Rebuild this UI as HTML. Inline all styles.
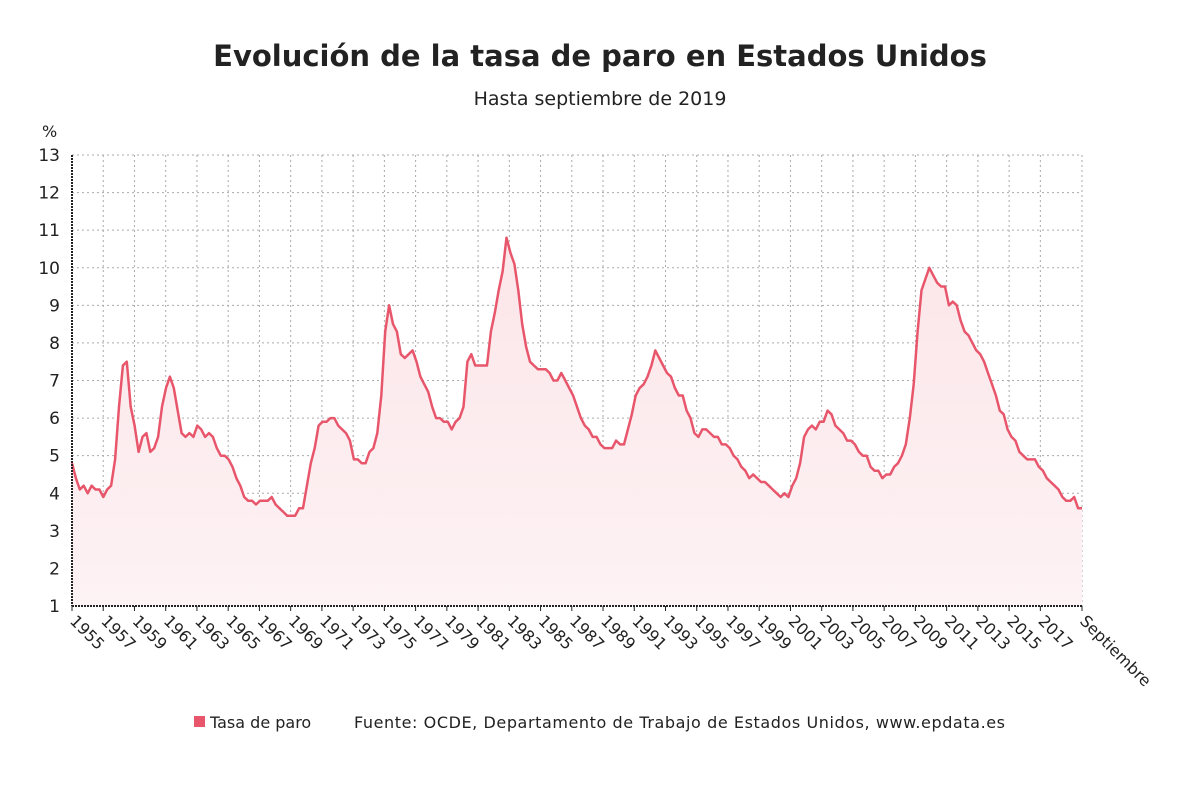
<!DOCTYPE html>
<html><head><meta charset="utf-8">
<style>
body{margin:0;background:#fff;font-family:"DejaVu Sans","Liberation Sans",sans-serif;}
svg text{font-family:"DejaVu Sans","Liberation Sans",sans-serif;fill:#222;}
</style></head>
<body>
<svg id="chart" width="1200" height="808" xmlns="http://www.w3.org/2000/svg">
<defs><linearGradient id="fillg" x1="0" y1="0" x2="0" y2="1"><stop offset="0" stop-color="#fce6e9"/><stop offset="1" stop-color="#fdf2f4"/></linearGradient></defs>
<text x="600" y="66" text-anchor="middle" font-size="29" font-weight="bold">Evolución de la tasa de paro en Estados Unidos</text>
<text x="600" y="105" text-anchor="middle" font-size="19">Hasta septiembre de 2019</text>
<text x="42" y="137" font-size="16">%</text>
<g id="grid"></g><g id="series"></g><g id="axes"></g>
<rect x="194" y="716" width="11" height="11" fill="#e8566c"/>
<text x="210" y="728" font-size="16">Tasa de paro</text>
<text x="354" y="728" font-size="16" textLength="651">Fuente: OCDE, Departamento de Trabajo de Estados Unidos, www.epdata.es</text>
</svg>
<script>
const startYear = 1955;
const yTicks = [1,2,3,4,5,6,7,8,9,10,11,12,13];
const xTickLabels = ["1955","1957","1959","1961","1963","1965","1967","1969","1971","1973","1975","1977","1979","1981","1983","1985","1987","1989","1991","1993","1995","1997","1999","2001","2003","2005","2007","2009","2011","2013","2015","2017","Septiembre"];
const rate = [
4.8,4.4,4.1,4.2, 4.0,4.2,4.1,4.1, 3.9,4.1,4.2,4.9, 6.3,7.4,7.5,6.3, 5.8,5.1,5.5,5.6,
5.1,5.2,5.5,6.3, 6.8,7.1,6.8,6.2, 5.6,5.5,5.6,5.5, 5.8,5.7,5.5,5.6, 5.5,5.2,5.0,5.0,
4.9,4.7,4.4,4.2, 3.9,3.8,3.8,3.7, 3.8,3.8,3.8,3.9, 3.7,3.6,3.5,3.4, 3.4,3.4,3.6,3.6,
4.2,4.8,5.2,5.8, 5.9,5.9,6.0,6.0, 5.8,5.7,5.6,5.4, 4.9,4.9,4.8,4.8, 5.1,5.2,5.6,6.6,
8.3,9.0,8.5,8.3, 7.7,7.6,7.7,7.8, 7.5,7.1,6.9,6.7, 6.3,6.0,6.0,5.9, 5.9,5.7,5.9,6.0,
6.3,7.5,7.7,7.4, 7.4,7.4,7.4,8.3, 8.8,9.4,9.9,10.8, 10.4,10.1,9.4,8.5, 7.9,7.5,7.4,7.3,
7.3,7.3,7.2,7.0, 7.0,7.2,7.0,6.8, 6.6,6.3,6.0,5.8, 5.7,5.5,5.5,5.3, 5.2,5.2,5.2,5.4,
5.3,5.3,5.7,6.1, 6.6,6.8,6.9,7.1, 7.4,7.8,7.6,7.4, 7.2,7.1,6.8,6.6, 6.6,6.2,6.0,5.6,
5.5,5.7,5.7,5.6, 5.5,5.5,5.3,5.3, 5.2,5.0,4.9,4.7, 4.6,4.4,4.5,4.4, 4.3,4.3,4.2,4.1,
4.0,3.9,4.0,3.9, 4.2,4.4,4.8,5.5, 5.7,5.8,5.7,5.9, 5.9,6.2,6.1,5.8, 5.7,5.6,5.4,5.4,
5.3,5.1,5.0,5.0, 4.7,4.6,4.6,4.4, 4.5,4.5,4.7,4.8, 5.0,5.3,6.0,6.9, 8.3,9.4,9.7,10.0,
9.8,9.6,9.5,9.5, 9.0,9.1,9.0,8.6, 8.3,8.2,8.0,7.8, 7.7,7.5,7.2,6.9, 6.6,6.2,6.1,5.7,
5.5,5.4,5.1,5.0, 4.9,4.9,4.9,4.7, 4.6,4.4,4.3,4.2, 4.1,3.9,3.8,3.8, 3.9,3.6,3.6
];
const NS="http://www.w3.org/2000/svg";
const X0=72,X1=1082,Y0=606,Y1=155;
const tEnd=2019+8/12;
const xs=t=>X0+(t-startYear)/(tEnd-startYear)*(X1-X0);
const ys=v=>Y0-(v-1)/(13-1)*(Y0-Y1);
function mk(tag,attrs,parent){const e=document.createElementNS(NS,tag);for(const k in attrs)e.setAttribute(k,attrs[k]);parent.appendChild(e);return e;}
const grid=document.getElementById('grid'),axes=document.getElementById('axes'),series=document.getElementById('series');
yTicks.forEach(v=>{
  if(v>1){const l=mk('line',{x1:X0,x2:X1,y1:ys(v),y2:ys(v),stroke:'#aaa','stroke-dasharray':'2,3'},grid);
  
  }
  const t=mk('text',{x:60,y:ys(v)+6,'text-anchor':'end','font-size':17},axes);t.textContent=v;
  
  
});
xTickLabels.forEach((lab,i)=>{
  const yr=lab==="Septiembre"?tEnd:startYear+2*i;const x=xs(yr);
  if(i>0){const l=mk('line',{x1:x,x2:x,y1:Y1,y2:Y0,stroke:'#aaa','stroke-dasharray':'2,3'},grid);
  
  }
  mk('line',{x1:x,x2:x,y1:Y0,y2:Y0+5,stroke:'#222'},axes);
  const t=mk('text',{x:x-3,y:Y0+16,'font-size':16,transform:`rotate(45 ${x-3} ${Y0+16})`},axes);t.textContent=lab;
  
  
});
const la=mk('line',{x1:X0,x2:X0,y1:Y1,y2:Y0,stroke:'#222','stroke-width':2,'stroke-dasharray':'2,1'},axes);


const ba=mk('line',{x1:X0,x2:X1,y1:Y0,y2:Y0,stroke:'#222','stroke-width':2,'stroke-dasharray':'2,1'},axes);


const n=rate.length;
const pts=rate.map((v,i)=>[xs(startYear+(i/(n-1))*(tEnd-startYear)),ys(v)]);
const d=pts.map((p,i)=>(i?'L':'M')+p[0].toFixed(1)+','+p[1].toFixed(1)).join('');
const area=mk('path',{d:d+`L${pts[n-1][0]},${Y0}L${pts[0][0]},${Y0}Z`,fill:'url(#fillg)'},series);


const line=mk('path',{d:d,fill:'none',stroke:'#e8566c','stroke-width':2.5,'stroke-linejoin':'round'},series);


</script>
</body></html>
